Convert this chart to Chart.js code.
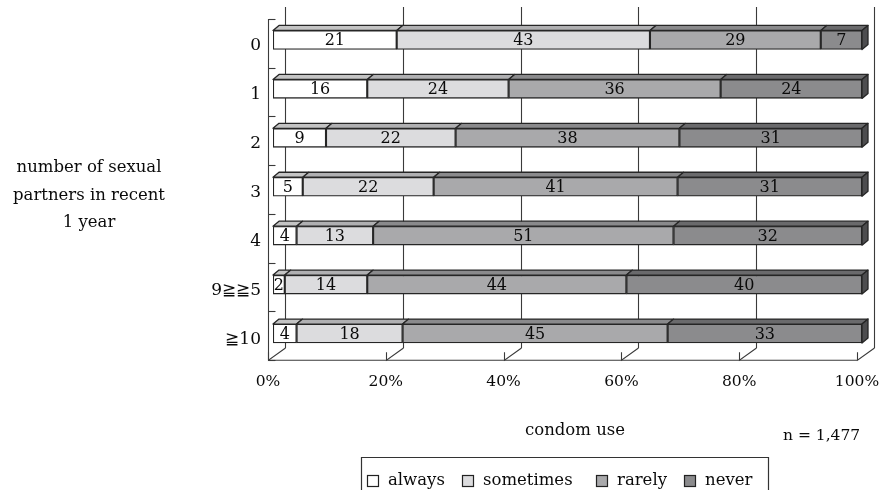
<!DOCTYPE html>
<html>
<head>
<meta charset="utf-8">
<script src="https://cdn.jsdelivr.net/npm/chart.js@4/dist/chart.umd.min.js"></script>
<style>
  html, body { margin: 0; padding: 0; background: #fff; }
  #wrap { width: 880px; height: 490px; position: relative; }
</style>
</head>
<body>
<div id="wrap"><canvas id="c" width="880" height="490"></canvas></div>
<script>
// Condom use by number of sexual partners in the recent year (percent of respondents)
const categories = ['0', '1', '2', '3', '4', '9≧≧5', '≧10'];
const seriesNames = ['always', 'sometimes', 'rarely', 'never'];
const always    = [21, 16,  9,  5,  4,  2,  4];
const sometimes = [43, 24, 22, 22, 13, 14, 18];
const rarely    = [29, 36, 38, 41, 51, 44, 45];
const never     = [ 7, 24, 31, 31, 32, 40, 33];
const xTicks = [0, 20, 40, 60, 80, 100];
const yTitleLines = ['number of sexual', 'partners in recent', '1 year'];
const xTitle = 'condom use';
const sampleNote = 'n = 1,477';

const FONT = '"DejaVu Serif", "Liberation Serif", serif';
const NUM_SIZE = 15.5;
const VALUE_SIZE = 16;
const CAT_SIZE = 17;
const TEXT_SIZE = 16.5;
const INK = '#0a0a0a';
const frontColors = ['#ffffff', '#dcdcde', '#a9a9ab', '#8b8b8d'];
const topColors   = ['#c4c4c4', '#b0b0b2', '#8a8a8c', '#6a6a6c'];
const sideColor = '#4d4d4f';
const edgeColor = '#262626';
const lineColor = '#3a3a3a';

// 100% stacked: each row is shown as shares of its own total
const raw = [always, sometimes, rarely, never];
const rowTotals = categories.map((_, i) => raw.reduce((s, arr) => s + arr[i], 0));
const shares = raw.map(arr => arr.map((v, i) => v / rowTotals[i] * 100));

// depth of the bar blocks and of the wall box
const BAR_DX = 6, BAR_DY = 5;
const FRONT_DX = -5, BACK_DX = 12;

const box3d = {
  id: 'box3d',
  beforeDatasetsDraw(chart) {
    const { ctx, chartArea: a, scales: { x, y } } = chart;
    const fTop = a.top + 3.5, fBot = a.bottom + 2.2;
    const bTop = a.top - 8.5, bBot = a.bottom - 10;
    ctx.save();
    ctx.strokeStyle = lineColor;
    ctx.lineWidth = 1.1;
    // back wall gridlines
    xTicks.forEach(v => {
      const bx = Math.round(x.getPixelForValue(v) + BACK_DX) + 0.5;
      ctx.beginPath();
      ctx.moveTo(bx, bTop);
      ctx.lineTo(bx, bBot);
      ctx.stroke();
    });
    // floor: front edge, tick marks and receding lines
    const f0 = x.getPixelForValue(0) + FRONT_DX;
    const f1 = x.getPixelForValue(100) + FRONT_DX;
    ctx.beginPath();
    ctx.moveTo(f0, fBot);
    ctx.lineTo(f1, fBot);
    ctx.stroke();
    xTicks.forEach(v => {
      const fx = Math.round(x.getPixelForValue(v) + FRONT_DX) + 0.5;
      const bx = Math.round(x.getPixelForValue(v) + BACK_DX) + 0.5;
      ctx.beginPath();
      ctx.moveTo(fx, fBot - 8);
      ctx.lineTo(fx, fBot);
      ctx.lineTo(bx, bBot);
      ctx.stroke();
    });
    // category axis on the left with its tick marks
    const ax = Math.round(f0) + 0.5;
    ctx.beginPath();
    ctx.moveTo(ax, fTop);
    ctx.lineTo(ax, fBot);
    ctx.stroke();
    const n = categories.length;
    for (let k = 0; k <= n; k++) {
      const b = y.getPixelForValue(k - 0.5);
      const ty = Math.round(fTop + (b - a.top) * (fBot - fTop) / (a.bottom - a.top)) + 0.5;
      ctx.beginPath();
      ctx.moveTo(ax, ty);
      ctx.lineTo(ax + 7, ty);
      ctx.stroke();
    }
    ctx.restore();
  },
  afterDatasetsDraw(chart) {
    const { ctx } = chart;
    ctx.save();
    ctx.lineJoin = 'round';
    ctx.lineWidth = 1.3;
    ctx.strokeStyle = edgeColor;
    const metas = chart.data.datasets.map((_, i) => chart.getDatasetMeta(i));
    categories.forEach((_, ci) => {
      let last = null;
      metas.forEach((meta, di) => {
        const el = meta.data[ci];
        const p = el.getProps(['x', 'y', 'base', 'height'], true);
        const x1 = Math.min(p.base, p.x), x2 = Math.max(p.base, p.x);
        if (x2 - x1 < 0.5) return;
        const top = p.y - p.height / 2;
        ctx.fillStyle = topColors[di];
        ctx.beginPath();
        ctx.moveTo(x1, top);
        ctx.lineTo(x1 + BAR_DX, top - BAR_DY);
        ctx.lineTo(x2 + BAR_DX, top - BAR_DY);
        ctx.lineTo(x2, top);
        ctx.closePath();
        ctx.fill();
        ctx.stroke();
        last = p;
      });
      if (last) {
        const x2 = Math.max(last.base, last.x);
        const top = last.y - last.height / 2, bot = last.y + last.height / 2;
        ctx.fillStyle = sideColor;
        ctx.beginPath();
        ctx.moveTo(x2, top);
        ctx.lineTo(x2 + BAR_DX, top - BAR_DY);
        ctx.lineTo(x2 + BAR_DX, bot - BAR_DY);
        ctx.lineTo(x2, bot);
        ctx.closePath();
        ctx.fill();
        ctx.stroke();
      }
    });
    // value labels on the front faces
    ctx.fillStyle = INK;
    ctx.font = VALUE_SIZE + 'px ' + FONT;
    ctx.textAlign = 'center';
    ctx.textBaseline = 'middle';
    metas.forEach((meta, di) => {
      meta.data.forEach((el, ci) => {
        const p = el.getProps(['x', 'y', 'base'], true);
        ctx.fillText(String(raw[di][ci]), (p.x + p.base) / 2, p.y + 1);
      });
    });
    ctx.restore();
  },
  afterDraw(chart) {
    const { ctx } = chart;
    ctx.save();
    ctx.fillStyle = INK;
    ctx.font = TEXT_SIZE + 'px ' + FONT;
    ctx.textBaseline = 'alphabetic';
    // category axis title
    ctx.textAlign = 'center';
    yTitleLines.forEach((t, i) => ctx.fillText(t, 89, 172 + i * 27.5));
    // value axis title and sample size
    ctx.fillText(xTitle, 575, 435);
    ctx.textAlign = 'left';
    ctx.font = NUM_SIZE + 'px ' + FONT;
    ctx.fillText(sampleNote, 783, 440);
    // legend box
    ctx.font = TEXT_SIZE + 'px ' + FONT;
    ctx.strokeStyle = '#333';
    ctx.lineWidth = 1.2;
    ctx.beginPath();
    ctx.moveTo(361.5, 495);
    ctx.lineTo(361.5, 457.5);
    ctx.lineTo(768.5, 457.5);
    ctx.lineTo(768.5, 495);
    ctx.stroke();
    const boxX = [367, 462, 596, 684];
    chart.data.datasets.forEach((ds, i) => {
      ctx.fillStyle = ds.backgroundColor;
      ctx.fillRect(boxX[i] + 0.5, 475.5, 11, 11);
      ctx.strokeStyle = '#222';
      ctx.strokeRect(boxX[i] + 0.5, 475.5, 11, 11);
      ctx.fillStyle = INK;
      ctx.fillText(ds.label, boxX[i] + 21, 485);
    });
    ctx.restore();
  }
};

new Chart(document.getElementById('c'), {
  type: 'bar',
  data: {
    labels: categories,
    datasets: seriesNames.map((name, i) => ({
      label: name,
      data: shares[i],
      backgroundColor: frontColors[i],
      borderColor: edgeColor,
      borderWidth: 1.4,
      borderSkipped: false,
      barThickness: 19
    }))
  },
  options: {
    indexAxis: 'y',
    responsive: false,
    animation: false,
    layout: { padding: { top: 15.5, right: 18, left: 0, bottom: 0 } },
    plugins: {
      legend: { display: false },
      tooltip: { enabled: false }
    },
    scales: {
      x: {
        type: 'linear',
        stacked: true,
        min: 0,
        max: 100,
        grid: { display: false, drawTicks: false },
        border: { display: false },
        afterFit: s => { s.height = 132; s.paddingLeft = 0; s.paddingRight = 0; },
        afterBuildTicks: s => { s.ticks = xTicks.map(v => ({ value: v })); },
        ticks: {
          callback: v => v + '%',
          labelOffset: FRONT_DX,
          padding: 15,
          color: INK,
          font: { family: FONT, size: NUM_SIZE },
          maxRotation: 0
        }
      },
      y: {
        type: 'category',
        stacked: true,
        grid: { display: false, drawTicks: false },
        border: { display: false },
        afterFit: s => { s.width = 273; s.paddingTop = 0; s.paddingBottom = 0; },
        ticks: {
          labelOffset: 6,
          padding: 12,
          color: INK,
          font: { family: FONT, size: CAT_SIZE }
        }
      }
    }
  },
  plugins: [box3d]
});
</script>
</body>
</html>
